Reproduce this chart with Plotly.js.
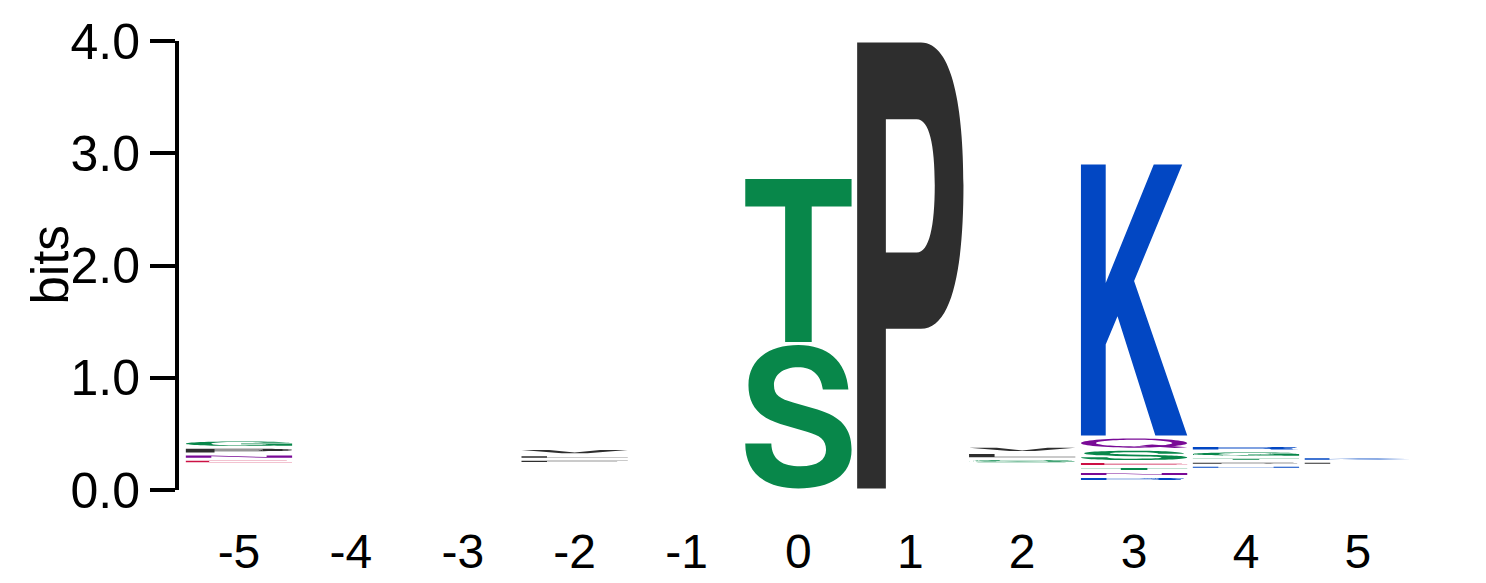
<!DOCTYPE html>
<html>
<head>
<meta charset="utf-8">
<script src="https://cdn.plot.ly/plotly-3.0.1.min.js"></script>
<style>
  html, body { margin: 0; padding: 0; background: #fff; }
  #logo { width: 1486px; height: 583px; }
</style>
</head>
<body>
<div id="logo"></div>
<script>
// sequence positions around the site
const positions = [-5, -4, -3, -2, -1, 0, 1, 2, 3, 4, 5];

// height (bits) taken by the tiny, unreadable letters at the bottom of each stack
const stackBase = [0.234, 0, 0, 0.237, 0, 0, 0, 0.2335, 0.075, 0.184, 0.22];

// visible letters, bottom to top, and their heights in bits
const stackLetters = [
  ['E', 'N', 'P', 'G'],
  [],
  [],
  ['F', 'L', 'V'],
  [],
  ['S', 'T'],
  ['P'],
  ['S', 'L', 'V'],
  ['R', 'N', 'T', 'E', 'S', 'Q', 'K'],
  ['H', 'P', 'T', 'G', 'R'],
  ['L', 'K']
];
const stackHeights = [
  [0.040, 0.046, 0.060, 0.066],
  [],
  [],
  [0.036, 0.042, 0.055],
  [],
  [1.305, 1.480],
  [4.000],
  [0.045, 0.055, 0.057],
  [0.045, 0.045, 0.045, 0.043, 0.110, 0.110, 2.440],
  [0.036, 0.036, 0.036, 0.056, 0.048],
  [0.036, 0.040]
];

const yTicks = [0, 1, 2, 3, 4];
const yTickText = ['0.0', '1.0', '2.0', '3.0', '4.0'];

// chemistry colours
const colors = {
  polar: '#08874a', neutral: '#790a96', basic: '#0247c3',
  acidic: '#cc1144', hydrophobic: '#2e2e2e'
};
const groupOf = {
  G: 'polar', S: 'polar', T: 'polar', Y: 'polar', C: 'polar',
  N: 'neutral', Q: 'neutral',
  K: 'basic', R: 'basic', H: 'basic',
  D: 'acidic', E: 'acidic',
  P: 'hydrophobic', A: 'hydrophobic', W: 'hydrophobic', F: 'hydrophobic',
  L: 'hydrophobic', I: 'hydrophobic', M: 'hydrophobic', V: 'hydrophobic'
};

// glyph outlines in a unit box (u right, v up); each entry is a list of paths
const glyphs = {
  T: ['M0,1 L1,1 L1,0.83 L0.625,0.83 L0.625,0 L0.375,0 L0.375,0.83 L0,0.83 Z'],
  P: ['M0,0 L0,1 L0.6,1 C0.9,1 1,0.85 1,0.68 C1,0.5 0.9,0.358 0.6,0.358 L0.27,0.358 L0.27,0 Z ' +
      'M0.27,0.828 L0.56,0.828 C0.68,0.828 0.73,0.77 0.73,0.68 C0.73,0.59 0.68,0.529 0.56,0.529 L0.27,0.529 Z'],
  K: ['M0,0 L0,1 L0.233,1 L0.233,0.563 L0.685,1 L0.953,1 L0.5,0.57 L1,0 L0.7,0 L0.344,0.44 L0.233,0.336 L0.233,0 Z'],
  S: ['M0.97,0.69 L0.73,0.69 C0.71,0.8 0.62,0.845 0.5,0.845 C0.35,0.845 0.27,0.79 0.27,0.72 ' +
      'C0.27,0.65 0.33,0.625 0.45,0.6 L0.68,0.55 C0.9,0.5 1,0.42 1,0.27 C1,0.09 0.8,0 0.5,0 ' +
      'C0.17,0 0,0.12 0,0.314 L0.245,0.314 C0.25,0.2 0.35,0.155 0.52,0.155 C0.68,0.155 0.76,0.2 0.76,0.27 ' +
      'C0.76,0.34 0.7,0.37 0.58,0.395 L0.33,0.45 C0.13,0.495 0.03,0.58 0.03,0.72 ' +
      'C0.03,0.9 0.22,1 0.5,1 C0.77,1 0.95,0.89 0.97,0.69 Z'],
  Q: ['M0.5,1 C0.78,1 1,0.78 1,0.5 C1,0.22 0.78,0 0.5,0 C0.22,0 0,0.22 0,0.5 C0,0.78 0.22,1 0.5,1 Z ' +
      'M0.5,0.86 C0.31,0.86 0.14,0.7 0.14,0.5 C0.14,0.3 0.31,0.14 0.5,0.14 C0.69,0.14 0.86,0.3 0.86,0.5 C0.86,0.7 0.69,0.86 0.5,0.86 Z',
      'M0.55,0.24 L0.67,0.34 L1,0.06 L0.88,-0.03 Z'],
  E: ['M0,0 L0,1 L0.95,1 L0.95,0.86 L0.22,0.86 L0.22,0.57 L0.9,0.57 L0.9,0.43 L0.22,0.43 L0.22,0.14 L1,0.14 L1,0 Z'],
  L: ['M0,0 L0,1 L0.24,1 L0.24,0.14 L1,0.14 L1,0 Z'],
  F: ['M0,0 L0,1 L1,1 L1,0.86 L0.24,0.86 L0.24,0.57 L0.9,0.57 L0.9,0.43 L0.24,0.43 L0.24,0 Z'],
  N: ['M0,0 L0,1 L0.24,1 L0.76,0.3 L0.76,1 L1,1 L1,0 L0.76,0 L0.24,0.7 L0.24,0 Z'],
  H: ['M0,0 L0,1 L0.24,1 L0.24,0.58 L0.76,0.58 L0.76,1 L1,1 L1,0 L0.76,0 L0.76,0.43 L0.24,0.43 L0.24,0 Z'],
  V: ['M0,1 L0.26,1 L0.5,0.2 L0.74,1 L1,1 L0.62,0 L0.38,0 Z'],
  R: ['M0,0 L0,1 L0.6,1 C0.88,1 0.98,0.86 0.98,0.74 C0.98,0.6 0.88,0.52 0.75,0.5 C0.9,0.46 0.94,0.4 0.94,0.28 ' +
      'L0.94,0.05 L1,0 L0.74,0 L0.72,0.25 C0.71,0.38 0.64,0.43 0.5,0.43 L0.24,0.43 L0.24,0 Z ' +
      'M0.24,0.86 L0.55,0.86 C0.68,0.86 0.74,0.8 0.74,0.72 C0.74,0.63 0.68,0.57 0.55,0.57 L0.24,0.57 Z'],
  G: ['M0.98,0.68 L0.75,0.68 C0.72,0.78 0.63,0.85 0.5,0.85 C0.33,0.85 0.24,0.7 0.24,0.5 ' +
      'C0.24,0.28 0.35,0.15 0.52,0.15 C0.66,0.15 0.76,0.24 0.77,0.38 L0.52,0.38 L0.52,0.52 L1,0.52 ' +
      'L1,0 L0.86,0 L0.83,0.1 C0.76,0.03 0.65,0 0.5,0 C0.2,0 0,0.22 0,0.5 C0,0.8 0.2,1 0.5,1 ' +
      'C0.77,1 0.95,0.87 0.98,0.68 Z']
};

const letterWidth = 0.95;
const letterGap = 0.027; // blank space between stacked letters (bits)

// move a unit-box glyph path into data coordinates
function placeGlyph(path, x0, y0, w, h) {
  return path.replace(/(-?[\d.]+),(-?[\d.]+)/g, function(m, u, v) {
    return (x0 + parseFloat(u) * w).toFixed(4) + ',' + (y0 + parseFloat(v) * h).toFixed(4);
  });
}

let shapes = [];
positions.forEach(function(pos, i) {
  let y = stackBase[i];
  stackLetters[i].forEach(function(letter, j) {
    let h = stackHeights[i][j];
    let gy0 = y + letterGap / 2;
    let gh = h - letterGap;
    y += h;
    if (gh <= 0) return;
    glyphs[letter].forEach(function(p) {
      shapes.push({
        type: 'path', xref: 'x', yref: 'y', layer: 'above',
        path: placeGlyph(p, pos - letterWidth / 2, gy0, letterWidth, gh),
        fillcolor: colors[groupOf[letter]],
        fillrule: 'evenodd',
        line: {width: 0}
      });
    });
  });
});

const font = 'Liberation Sans, Arial, Helvetica, sans-serif';

let data = [{
  x: positions, y: positions.map(function() { return 0; }),
  type: 'scatter', mode: 'markers', marker: {opacity: 0}, hoverinfo: 'skip', showlegend: false
}];

let layout = {
  width: 1486, height: 583,
  margin: {l: 179, r: 61, t: 41, b: 93},
  paper_bgcolor: '#fff', plot_bgcolor: '#fff',
  showlegend: false,
  font: {family: font, color: '#000'},
  xaxis: {
    range: [-5.536, 5.6], tickvals: positions, ticktext: positions.map(String),
    showline: false, showgrid: false, zeroline: false, ticks: '',
    ticklabelstandoff: 29,
    tickfont: {size: 48, family: font, color: '#000'}
  },
  yaxis: {
    range: [0, 4], tickvals: yTicks, ticktext: yTickText,
    showline: true, linewidth: 4, linecolor: '#000',
    ticks: 'outside', ticklen: 25, tickwidth: 4, tickcolor: '#000',
    showgrid: false, zeroline: false,
    tickfont: {size: 50, family: font, color: '#000'}
  },
  annotations: [{
    text: 'bits', textangle: -90, showarrow: false,
    xref: 'paper', yref: 'paper', x: 0, y: 0.5, xshift: -129,
    xanchor: 'center', yanchor: 'middle',
    font: {size: 51, family: font, color: '#000'}
  }],
  shapes: shapes
};

Plotly.newPlot('logo', data, layout, {staticPlot: true, displayModeBar: false});
</script>
</body>
</html>
